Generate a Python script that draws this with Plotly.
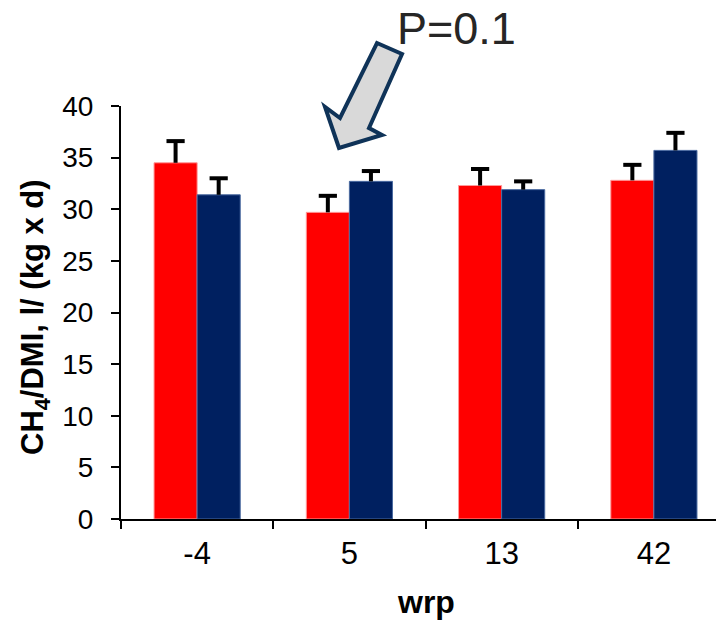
import plotly.graph_objects as go

categories = ["-4", "5", "13", "42"]
red_values = [34.5, 29.7, 32.3, 32.8]
red_errors = [2.1, 1.6, 1.6, 1.5]
navy_values = [31.4, 32.7, 31.9, 35.7]
navy_errors = [1.6, 1.0, 0.8, 1.7]
y_ticks = [0, 5, 10, 15, 20, 25, 30, 35, 40]
annotation_text = "P=0.1"
x_title = "wrp"
y_title = "CH<sub>4</sub>/DMI, l/ (kg x d)"

FONT = "Liberation Sans, Arial, sans-serif"

W, H = 716, 620
L, R, T, B = 121, 0, 106, 101
PW, PH = W - L - R, H - T - B
GAP = 0.434


def px(x, y):
    return (x - L) / PW, (H - B - y) / PH


fig = go.Figure()
for vals, errs, col, edge in [(red_values, red_errors, "#ff0000", "#ff9a9a"),
                              (navy_values, navy_errors, "#002060", "#4a6aa0")]:
    fig.add_trace(go.Bar(
        x=categories, y=vals,
        marker=dict(color=col, line=dict(color=edge, width=1)),
        error_y=dict(type="data", symmetric=False, array=errs,
                     arrayminus=[0] * len(errs), color="#000000",
                     thickness=4, width=0),
    ))
for vals, errs in [(red_values, red_errors), (navy_values, navy_errors)]:
    fig.add_trace(go.Scatter(
        x=categories, y=[v + e for v, e in zip(vals, errs)],
        mode="markers", hoverinfo="skip",
        marker=dict(symbol="line-ew", size=13,
                    line=dict(color="#000000", width=4)),
    ))

# arrow polygon (pixel coords converted to paper)
pts = [(339, 148), (325, 107), (340, 118), (377, 43), (402, 54),
       (369, 128), (382, 135)]
path = ""
for i, (x, y) in enumerate(pts):
    a, b = px(x, y)
    path += ("M" if i == 0 else "L") + f"{a:.5f},{b:.5f} "
path += "Z"
fig.add_shape(type="path", path=path, xref="paper", yref="paper",
              fillcolor="#d9d9d9", line=dict(color="#0f3358", width=4))

ax, ay = px(456, 28)
fig.add_annotation(text=annotation_text, xref="paper", yref="paper",
                   x=ax, y=ay, showarrow=False, xanchor="center",
                   yanchor="middle",
                   font=dict(family=FONT, size=45, color="#262626"))

tx, ty = px(426, 602)
fig.add_annotation(text=f"<b>{x_title}</b>", xref="paper", yref="paper",
                   x=tx, y=ty, showarrow=False, xanchor="center",
                   yanchor="middle",
                   font=dict(family=FONT, size=32, color="#000000"))

tx, ty = px(35, 317)
fig.add_annotation(text=f"<b>{y_title}</b>", xref="paper", yref="paper",
                   x=tx, y=ty, showarrow=False, xanchor="center",
                   yanchor="middle", textangle=-90,
                   font=dict(family=FONT, size=31, color="#000000"))

fig.update_layout(
    width=W, height=H,
    margin=dict(l=L, r=R, t=T, b=B, pad=0, autoexpand=False),
    paper_bgcolor="white", plot_bgcolor="white",
    showlegend=False,
    barmode="group", bargap=GAP, bargroupgap=0,
    scattermode="group", scattergap=GAP,
    font=dict(family=FONT, color="#000000"),
)
fig.update_xaxes(
    type="category", range=[-0.5, 3.5 - 14 / 152], automargin=False,
    showline=True, linecolor="#000000", linewidth=2,
    ticks="outside", tickson="boundaries", ticklen=8, tickwidth=2,
    tickcolor="#000000", showgrid=False, ticklabelstandoff=6,
    tickfont=dict(family=FONT, size=31, color="#000000"),
)
fig.update_yaxes(
    range=[0, 40], tickvals=y_ticks, ticktext=[str(v) for v in y_ticks],
    automargin=False,
    showline=True, linecolor="#000000", linewidth=2,
    ticks="outside", ticklen=8, tickwidth=2, tickcolor="#000000",
    showgrid=False, zeroline=False, ticklabelstandoff=12,
    tickfont=dict(family=FONT, size=28, color="#000000"),
)

fig.write_html("out.html",
               config={"displayModeBar": False, "staticPlot": True},
               post_script="document.body.style.margin='0';"
                           "document.body.style.overflow='hidden';")
